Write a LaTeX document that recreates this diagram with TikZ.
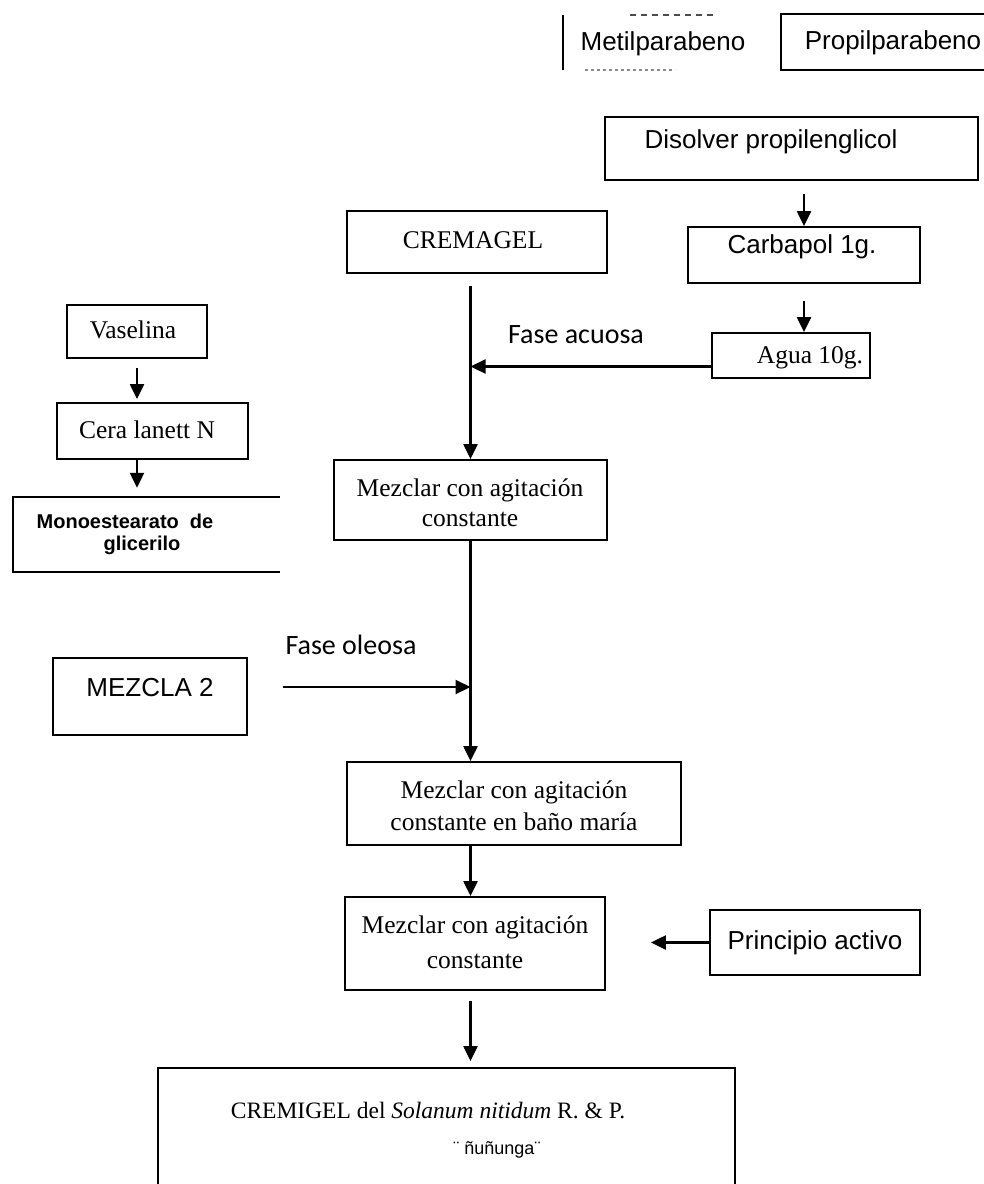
\documentclass[tikz,border=0pt]{standalone}
\usepackage{fontspec}
\setmainfont{Liberation Serif}
\newfontfamily\arialf{Liberation Sans}
\newfontfamily\calibrif{Carlito}
\usetikzlibrary{arrows.meta,calc}
\begin{document}
\begin{tikzpicture}[x=1pt,y=-1pt,
  box/.style={draw, line width=1.8pt, inner sep=0pt},
  serif/.style={font=\fontsize{25.5}{30}\selectfont, inner sep=0pt, align=center},
  sans/.style={font=\arialf\fontsize{26}{31}\selectfont, inner sep=0pt, align=center},
  cal/.style={font=\calibrif\fontsize{28}{33}\selectfont, inner sep=0pt},
  arr/.style={line width=2.2pt, -{Triangle[length=15pt,width=14pt]}},
  faint/.style={line width=1.2pt, gray, dash pattern=on 6pt off 5pt}]
\useasboundingbox (0,0) rectangle (984,1184);

% top labels
\node[box, minimum width=209pt, minimum height=56pt] (propil) at (885.5,42) {};
\node[sans] (propilt) at (893,43) {Propilparabeno};
\node[sans] (metilt) at (663,44) {Metilparabeno};
\draw[line width=1.8pt] (563,15) -- (563,70);
\draw[faint, black!70] (630,15) -- (715,15);
\draw[faint, black!45, dash pattern=on 3pt off 3pt] (585,70) -- (675,70);

% right column
\node[box, minimum width=373pt, minimum height=63pt] (disolver) at (791.5,148.5) {};
\node[sans] (disolvert) at (771,142) {Disolver propilenglicol};
\node[box, minimum width=232pt, minimum height=56pt] (carbapol) at (804,255) {};
\node[sans] (carbapolt) at (802,247) {Carbapol 1g.};
\node[box, minimum width=158pt, minimum height=45pt] (agua) at (791,355.5) {};
\node[serif] (aguat) at (810,358) {Agua 10g.};

% centre column
\node[box, minimum width=260pt, minimum height=62pt] (cremagel) at (477,242) {};
\node[serif] (cremagelt) at (473,240) {CREMAGEL};
\node[box, minimum width=273pt, minimum height=80pt] (mezclar1) at (470.5,500) {};
\node[serif] (mezclar1t) at (470,503) {Mezclar con agitación\\constante};
\node[cal] (acuosa) at (576,335) {Fase acuosa};
\node[cal] (oleosa) at (351,645) {Fase oleosa};
\node[box, minimum width=334pt, minimum height=83pt] (mezclar2) at (514,803.5) {};
\node[serif, font=\fontsize{25.5}{32}\selectfont] (mezclar2t) at (514,806) {Mezclar con agitación\\constante en baño maría};
\node[box, minimum width=260pt, minimum height=93pt] (mezclar3) at (475,943.5) {};
\node[serif, font=\fontsize{25.5}{35}\selectfont] (mezclar3t) at (475,942) {Mezclar con agitación\\constante};
\node[box, minimum width=210pt, minimum height=65pt] (principio) at (815,942.5) {};
\node[sans] (principiot) at (815,943) {Principio activo};
\node[box, minimum width=577pt, minimum height=132pt] (final) at (446.5,1134) {};
\node[serif, font=\fontsize{23.5}{28}\selectfont] (finalt) at (428,1110) {CREMIGEL del \textit{Solanum nitidum} R. \& P.};
\node[font=\arialf\fontsize{18}{20}\selectfont, inner sep=0pt] (finalt2) at (497,1150) {¨ ñuñunga¨};

% left column
\node[box, minimum width=140pt, minimum height=53pt] (vaselina) at (137,331.5) {};
\node[serif] (vaselinat) at (133,330) {Vaselina};
\node[box, minimum width=191pt, minimum height=56pt] (cera) at (152.5,431) {};
\node[serif] (cerat) at (147,430) {Cera lanett N};
\node[minimum width=267pt, minimum height=75pt, inner sep=0pt] (mono) at (146.5,534.5) {};
\draw[line width=1.8pt] (mono.north east) -- (mono.north west) -- (mono.south west) -- (mono.south east);
\node[font=\arialf\bfseries\fontsize{20}{22}\selectfont, align=center, inner sep=0pt] (monot) at (125,534) {Monoestearato\ \ de\\\hspace*{34pt}glicerilo};
\node[box, minimum width=194pt, minimum height=77pt] (mezcla2) at (150,696.5) {};
\node[sans] (mezcla2t) at (150,688) {MEZCLA 2};

% connectors
\draw[arr, shorten <=13pt] (carbapol.north |- disolver.south) -- (carbapol.north);
\draw[arr, shorten <=17pt] (carbapol.south) -- (carbapol.south |- agua.north);
\draw[arr, shorten <=12pt] (mezclar1.north |- cremagel.south) -- (mezclar1.north);
\path (agua.west) ++(0,11) coordinate (aguaout);
\draw[arr] (aguaout) -- (aguaout -| mezclar1.north);
\draw[arr] (mezclar1.south) -- (mezclar1.south |- mezclar2.north);
\path (mezcla2.east) ++(35,-9.5) coordinate (m2out);
\draw[arr] (m2out) -- (m2out -| mezclar1.south);
\draw[arr] (mezclar1.south |- mezclar2.south) -- (mezclar1.south |- mezclar3.north);
\draw[arr, shorten >=45pt] (principio.west) -- (principio.west -| mezclar3.east);
\draw[arr, shorten <=10pt, shorten >=6pt] (mezclar1.south |- mezclar3.south) -- (mezclar1.south |- final.north);
\draw[arr, shorten <=9pt, shorten >=3pt] (vaselina.south) -- (vaselina.south |- cera.north);
\draw[arr, shorten >=9pt] (vaselina.south |- cera.south) -- (vaselina.south |- mono.north);
\end{tikzpicture}
\end{document}
